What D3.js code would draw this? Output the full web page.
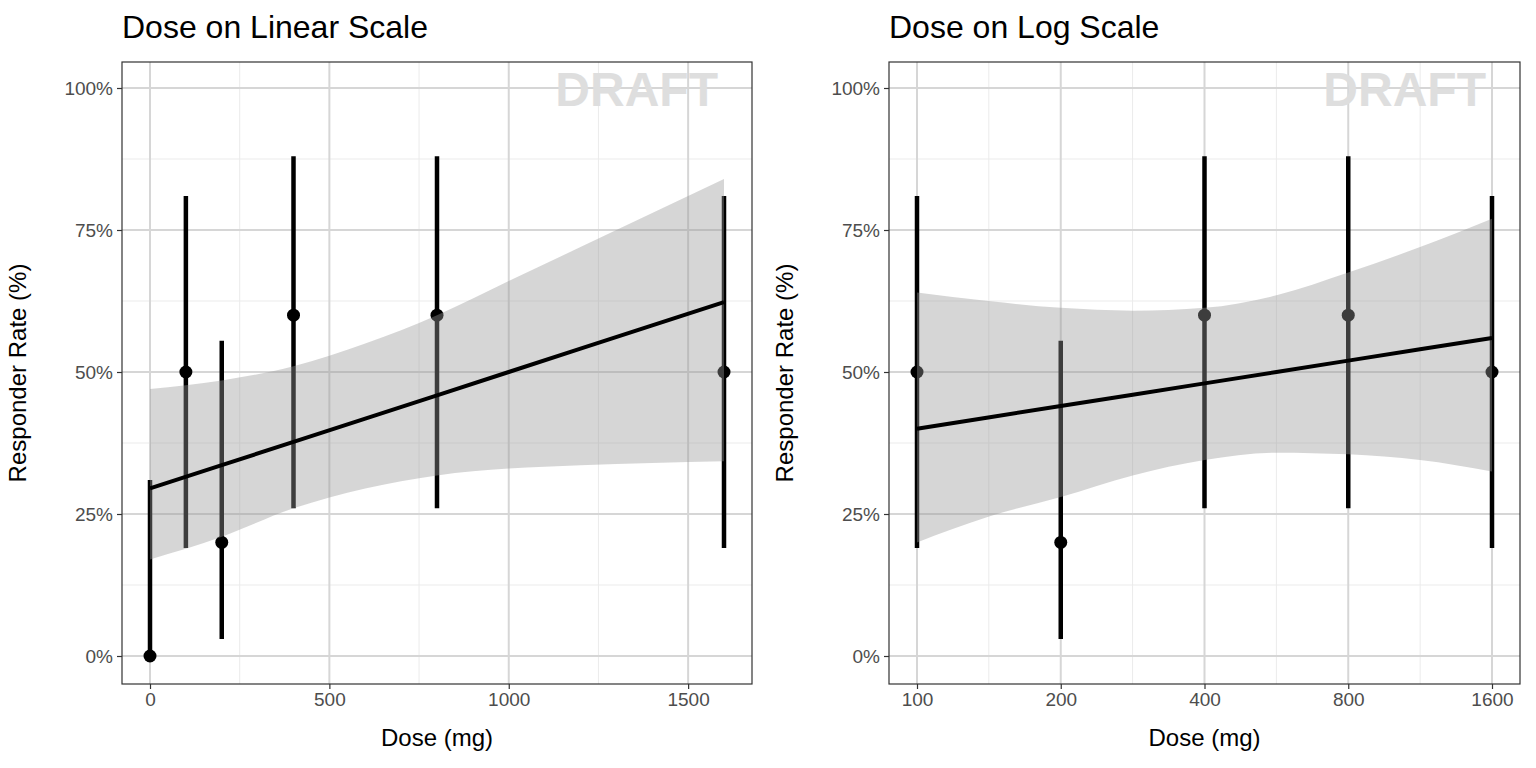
<!DOCTYPE html>
<html><head><meta charset="utf-8">
<script src="https://cdn.jsdelivr.net/npm/d3@7"></script>
<style>body{margin:0;background:#fff}text{font-family:"Liberation Sans",Arial,sans-serif}</style>
</head><body><svg id="chart" width="1536" height="768"></svg>
<script>
// observed data
var doses = [0, 100, 200, 400, 800, 1600];
var rates = [0, 50, 20, 60, 60, 50];
var ciLow = [0, 19, 3, 26, 26, 19];
var ciHigh = [31, 81, 55.5, 88, 88, 81];

// linear-scale fit
var linX = [0, 200, 400, 600, 800, 1000, 1200, 1400, 1600];
var linFit = [29.5, 33.6, 37.7, 41.8, 45.9, 50, 54.1, 58.2, 62.3];
var linUpper = [47, 48.5, 51, 55, 60, 66, 72, 78, 84];
var linLower = [17, 21, 26, 29.5, 31.8, 33, 33.6, 34, 34.3];

// log-scale fit
var logX = [100, 141, 200, 283, 400, 566, 800, 1131, 1600];
var logFit = [40, 42, 44, 46, 48, 50, 52, 54, 56];
var logUpper = [64, 62.5, 61.3, 60.8, 61.3, 63.5, 67.5, 72, 77];
var logLower = [20, 24.5, 28, 31.8, 34.5, 35.8, 35.5, 34.5, 32.5];

var yTicks = [0, 25, 50, 75, 100];
var yMinor = [12.5, 37.5, 62.5, 87.5];

var svg = d3.select("#chart");

function panel(opt) {
    var left = opt.left, right = opt.right, top = 62, bottom = 684;
    var x = opt.x;
    var y = d3.scaleLinear().domain([0, 100]).range([656, 88]);
    var g = svg.append("g");

    g.append("rect").attr("x", left).attr("y", top).attr("width", right - left)
        .attr("height", bottom - top).attr("fill", "#fff");

    // grid
    opt.xMinor.forEach(function(v) {
        g.append("line").attr("x1", x(v)).attr("x2", x(v)).attr("y1", top).attr("y2", bottom)
            .attr("stroke", "#ebebeb").attr("stroke-width", 1);
    });
    yMinor.forEach(function(v) {
        g.append("line").attr("x1", left).attr("x2", right).attr("y1", y(v)).attr("y2", y(v))
            .attr("stroke", "#ebebeb").attr("stroke-width", 1);
    });
    opt.xTicks.forEach(function(v) {
        g.append("line").attr("x1", x(v)).attr("x2", x(v)).attr("y1", top).attr("y2", bottom)
            .attr("stroke", "#d6d6d6").attr("stroke-width", 2);
    });
    yTicks.forEach(function(v) {
        g.append("line").attr("x1", left).attr("x2", right).attr("y1", y(v)).attr("y2", y(v))
            .attr("stroke", "#d6d6d6").attr("stroke-width", 2);
    });

    // draft watermark
    g.append("text").attr("x", right - 34).attr("y", 106).attr("text-anchor", "end")
        .attr("font-size", 48).attr("font-weight", "bold").attr("fill", "#dedede").text("DRAFT");

    // error bars and points
    doses.forEach(function(d, i) {
        if (!opt.keep(d)) return;
        g.append("line").attr("x1", x(d)).attr("x2", x(d))
            .attr("y1", y(ciLow[i])).attr("y2", y(ciHigh[i]))
            .attr("stroke", "#000").attr("stroke-width", 4.5);
        g.append("circle").attr("cx", x(d)).attr("cy", y(rates[i])).attr("r", 6.5).attr("fill", "#000");
    });

    // ribbon
    var band = opt.fx.map(function(v, i) { return [v, opt.lo[i], opt.hi[i]]; });
    g.append("path").datum(band)
        .attr("d", d3.area().curve(d3.curveMonotoneX)
            .x(function(d) { return x(d[0]); })
            .y0(function(d) { return y(d[1]); })
            .y1(function(d) { return y(d[2]); }))
        .attr("fill", "#999").attr("fill-opacity", 0.4);

    // fit line
    g.append("path").datum(opt.fx.map(function(v, i) { return [v, opt.fit[i]]; }))
        .attr("d", d3.line().x(function(d) { return x(d[0]); }).y(function(d) { return y(d[1]); }))
        .attr("fill", "none").attr("stroke", "#000").attr("stroke-width", 4);

    g.append("rect").attr("x", left).attr("y", top).attr("width", right - left)
        .attr("height", bottom - top).attr("fill", "none").attr("stroke", "#333").attr("stroke-width", 1.2);

    // axes
    var ax = g.append("g").attr("transform", "translate(0," + bottom + ")")
        .call(d3.axisBottom(x).tickValues(opt.xTicks).tickSize(5).tickPadding(4).tickFormat(d3.format("d")));
    var ay = g.append("g").attr("transform", "translate(" + left + ",0)")
        .call(d3.axisLeft(y).tickValues(yTicks).tickSize(5).tickPadding(4).tickFormat(function(d) { return d + "%"; }));
    [ax, ay].forEach(function(a) {
        a.select(".domain").remove();
        a.selectAll("line").attr("stroke", "#333").attr("stroke-width", 1.2);
        a.selectAll("text").attr("font-size", 19).attr("fill", "#4d4d4d")
            .style("font-family", "Liberation Sans, Arial, sans-serif");
    });

    g.append("text").attr("x", left).attr("y", 38).attr("font-size", 32).attr("fill", "#000").text(opt.title);
    g.append("text").attr("x", (left + right) / 2).attr("y", 746).attr("text-anchor", "middle")
        .attr("font-size", 24).attr("fill", "#000").text("Dose (mg)");
    g.append("text").attr("transform", "translate(" + (left - 96) + ",373) rotate(-90)")
        .attr("text-anchor", "middle").attr("font-size", 24).attr("fill", "#000").text("Responder Rate (%)");
}

panel({
    title: "Dose on Linear Scale", left: 122, right: 752,
    x: d3.scaleLinear().domain([0, 1600]).range([150, 724]),
    xTicks: [0, 500, 1000, 1500], xMinor: [250, 750, 1250],
    keep: function(d) { return true; },
    fx: linX, fit: linFit, lo: linLower, hi: linUpper
});
panel({
    title: "Dose on Log Scale", left: 889, right: 1520,
    x: d3.scaleLog().domain([100, 1600]).range([917, 1492]),
    xTicks: [100, 200, 400, 800, 1600], xMinor: [141.4, 282.8, 565.7, 1131.4],
    keep: function(d) { return d > 0; },
    fx: logX, fit: logFit, lo: logLower, hi: logUpper
});
</script></body></html>
